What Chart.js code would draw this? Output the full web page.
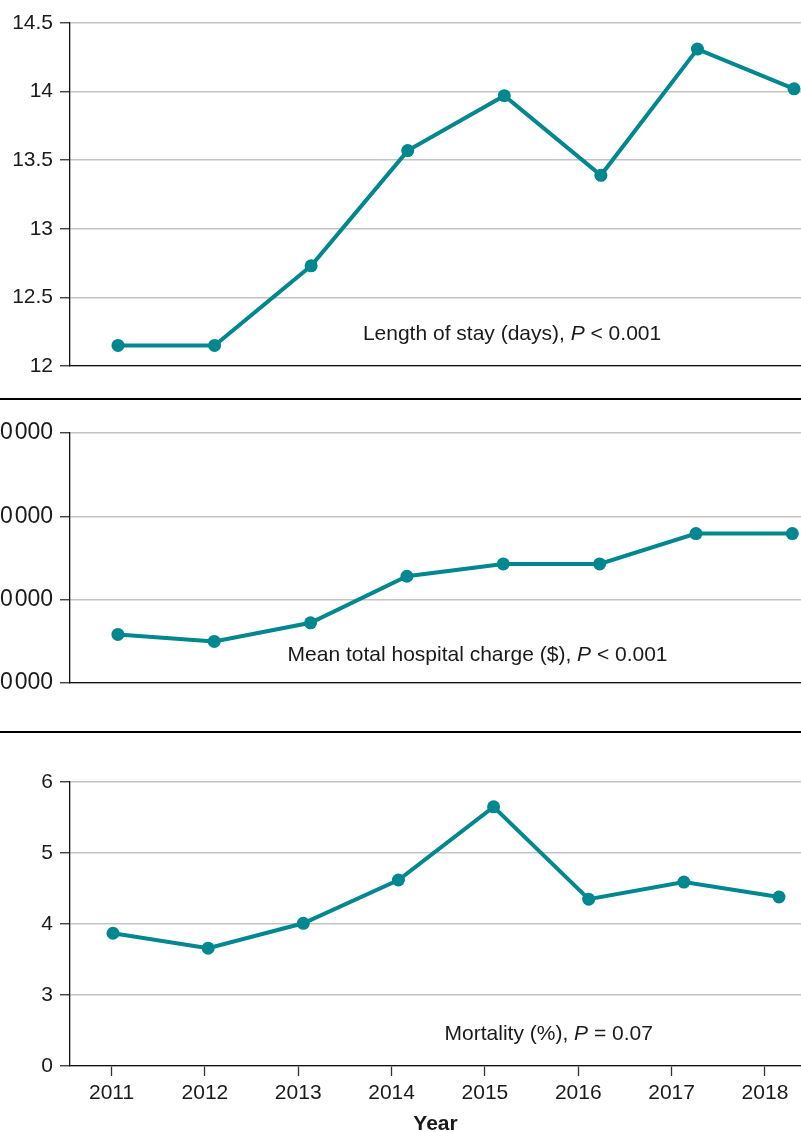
<!DOCTYPE html>
<html>
<head>
<meta charset="utf-8">
<script src="https://cdn.jsdelivr.net/npm/chart.js@4"></script>
<style>
  body { margin: 0; background: #fff; width: 801px; height: 1132px; overflow: hidden; position: relative; }
  .panel { position: absolute; left: 0; width: 801px; overflow: hidden; }
  .panel canvas { position: absolute; top: 0; }
  .sep { position: absolute; left: 0; width: 801px; height: 2px; background: #000; }
</style>
</head>
<body>
<div class="panel" style="top:0;height:390px"><canvas id="losChart" width="801" height="390"></canvas></div>
<div class="sep" style="top:398px"></div>
<div class="panel" style="top:400px;height:330px"><canvas id="chargeChart" width="831" height="330" style="left:-30px"></canvas></div>
<div class="sep" style="top:731px"></div>
<div class="panel" style="top:740px;height:392px"><canvas id="mortChart" width="801" height="392"></canvas></div>

<script>
const years = ["2011", "2012", "2013", "2014", "2015", "2016", "2017", "2018"];

// length of stay (days)
const losValues = [12.15, 12.15, 12.73, 13.57, 13.97, 13.39, 14.31, 14.02];
// mean total hospital charge ($)
const chargeValues = [105830, 104990, 107220, 112810, 114290, 114290, 117930, 117930];
// mortality (%)
const mortValues = [3.87, 3.66, 4.01, 4.62, 5.65, 4.35, 4.59, 4.38];
// broken axis: bottom tick reads 0
const mortTickLabels = ["0", "3", "4", "5", "6"];

const TEAL = "#00878f";
Chart.defaults.font.family = '"Liberation Sans", Arial, sans-serif';
Chart.defaults.font.size = 21;
Chart.defaults.color = "#1a1a1a";

// centred label with an italic P, placed in data units
const notePlugin = {
  id: "note",
  afterDatasetsDraw(chart, args, opts) {
    if (!opts.parts) return;
    const ctx = chart.ctx;
    const x = chart.scales[opts.xAxis || "x"].getPixelForValue(opts.x);
    const y = chart.scales.y.getPixelForValue(opts.y);
    const fam = Chart.defaults.font.family;
    const fonts = opts.parts.map((p) => (p[1] ? "italic " : "") + "21px " + fam);
    ctx.save();
    let total = 0;
    const widths = opts.parts.map((p, i) => {
      ctx.font = fonts[i];
      const w = ctx.measureText(p[0]).width;
      total += w;
      return w;
    });
    let cx = x - total / 2;
    ctx.fillStyle = "#1a1a1a";
    ctx.textBaseline = "middle";
    ctx.textAlign = "left";
    opts.parts.forEach((p, i) => {
      ctx.font = fonts[i];
      ctx.fillText(p[0], cx, y);
      cx += widths[i];
    });
    ctx.restore();
  },
};

function lineData(values) {
  return {
    datasets: [
      {
        data: values.map((v, i) => ({ x: i, y: v })),
        borderColor: TEAL,
        backgroundColor: TEAL,
        borderWidth: 4,
        pointRadius: 6.5,
        pointBorderWidth: 0,
        pointBackgroundColor: TEAL,
        tension: 0,
        clip: false,
      },
    ],
  };
}

function yAxis(min, max, step, width, labelFn, fontSize) {
  return {
    type: "linear",
    min: min,
    max: max,
    ticks: { stepSize: step, padding: 7, callback: labelFn, font: { size: fontSize || 21 } },
    grid: { color: "#c4c4c4", lineWidth: 1.5, tickColor: "#333", tickLength: 10, tickWidth: 1.3 },
    border: { color: "#111", width: 1.3 },
    afterFit: (s) => { s.width = width; },
  };
}

// x axis with only the base line, no labels
function plainX(min, max) {
  return {
    type: "linear",
    min: min,
    max: max,
    ticks: { display: false },
    grid: { drawOnChartArea: false, drawTicks: false },
    border: { color: "#111", width: 1.3 },
    afterFit: (s) => { s.height = 0; },
  };
}

const baseOpts = {
  responsive: false,
  animation: false,
  plugins: { legend: { display: false }, tooltip: { enabled: false } },
};

// panel 1
new Chart(document.getElementById("losChart"), {
  type: "line",
  data: lineData(losValues),
  plugins: [notePlugin],
  options: {
    ...baseOpts,
    layout: { autoPadding: false, padding: { top: 23, bottom: 24, left: 0, right: 0 } },
    plugins: {
      ...baseOpts.plugins,
      note: { parts: [["Length of stay (days), ", false], ["P", true], [" < 0.001", false]], x: 4.08, y: 12.233 },
    },
    scales: {
      x: plainX(-0.497, 7.072),
      y: yAxis(12, 14.5, 0.5, 70),
    },
  },
});

// panel 2 (leading digits of the tick labels fall off the left edge, as in the source figure)
new Chart(document.getElementById("chargeChart"), {
  type: "line",
  data: lineData(chargeValues),
  plugins: [notePlugin],
  options: {
    ...baseOpts,
    layout: { autoPadding: false, padding: { top: 33, bottom: 47, left: 0, right: 0 } },
    plugins: {
      ...baseOpts.plugins,
      note: { parts: [["Mean total hospital charge ($), ", false], ["P", true], [" < 0.001", false]], x: 3.733, y: 103290 },
    },
    scales: {
      x: plainX(-0.497, 7.09),
      y: yAxis(100000, 130000, 10000, 100, (v) => String(v).replace(/\B(?=(\d{3})+$)/g, "\u200A"), 23),
    },
  },
});

// panel 3
new Chart(document.getElementById("mortChart"), {
  type: "line",
  data: lineData(mortValues),
  plugins: [notePlugin],
  options: {
    ...baseOpts,
    layout: { autoPadding: false, padding: { top: 42, bottom: 0, left: 0, right: 0 } },
    plugins: {
      ...baseOpts.plugins,
      note: { parts: [["Mortality (%), ", false], ["P", true], [" = 0.07", false]], x: 4.58, y: 2.45 },
    },
    scales: {
      x: { type: "linear", display: false, min: -0.452, max: 7.231 },
      xl: {
        type: "linear",
        position: "bottom",
        min: -0.445,
        max: 7.386,
        afterBuildTicks: (s) => { s.ticks = years.map((y, i) => ({ value: i })); },
        ticks: { autoSkip: false, maxRotation: 0, padding: 5, callback: (v, i) => years[i] },
        grid: { drawOnChartArea: false, tickColor: "#333", tickLength: 10, tickWidth: 1.3 },
        border: { color: "#111", width: 1.3 },
        title: { display: true, text: "Year", color: "#1a1a1a", font: { size: 21, weight: "bold", lineHeight: 1 }, padding: { top: 0, bottom: -3 } },
        afterFit: (s) => { s.height = 66; },
      },
      y: {
        ...yAxis(2, 6, 1, 70, (v, i) => mortTickLabels[i]),
        afterBuildTicks: (s) => { s.ticks = mortTickLabels.map((t, i) => ({ value: 2 + i })); },
      },
    },
  },
});
</script>
</body>
</html>
